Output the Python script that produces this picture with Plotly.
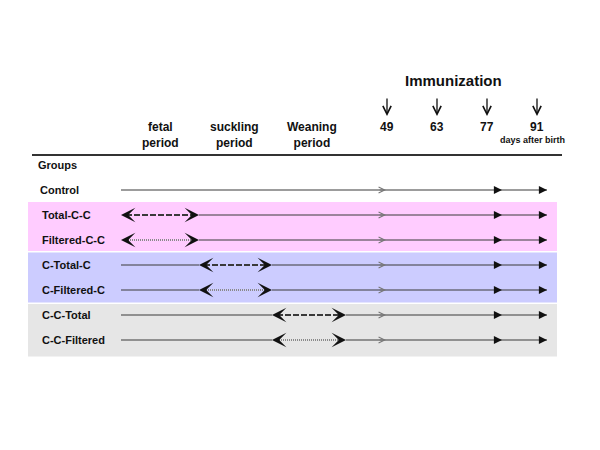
import plotly.graph_objects as go

# ---- data ----
groups = ["Control", "Total-C-C", "Filtered-C-C", "C-Total-C", "C-Filtered-C", "C-C-Total", "C-C-Filtered"]
treat_period = [None, 0, 0, 1, 1, 2, 2]
treat_kind = [None, "Total", "Filtered", "Total", "Filtered", "Total", "Filtered"]
period_labels = ["fetal<br>period", "suckling<br>period", "Weaning<br>period"]
imm_days = [49, 63, 77, 91]

# ---- layout positions (pixel-like axis units) ----
period_label_x = [160, 234, 312]
period_bounds = [121, 199, 272, 346]
band_colors = ["#FFCCFF", "#CCCCFF", "#E6E6E6"]
band_top = [202, 252.5, 304]
band_bottom = [251, 302.5, 356.5]
imm_x = [387, 437, 487, 537]
timeline_end = 547
open_mark_x = 386
boost_mark_x = [502, 547]
row_y = [190 + 25 * i for i in range(len(groups))]

FONT = "Liberation Sans, Arial, sans-serif"
LINE = "#3a3a3a"
TXT = "#111111"
OFF = 8  # page body margin

fig = go.Figure()
shapes = []
ann = []

# background bands
for p in range(3):
    shapes.append(dict(type="rect", xref="x", yref="y", x0=28, x1=557,
                       y0=band_top[p], y1=band_bottom[p],
                       fillcolor=band_colors[p], line_width=0, layer="below"))

# header rule
shapes.append(dict(type="line", xref="x", yref="y", x0=32, x1=562, y0=155, y1=155,
                   line=dict(color="#333333", width=2)))


def head(x, y, ax, ay, style, size, width, color):
    ann.append(dict(x=x, y=y, ax=ax, ay=ay, xref="x", yref="y", axref="x", ayref="y",
                    text="", showarrow=True, arrowhead=style, arrowsize=size,
                    arrowwidth=width, arrowcolor=color, standoff=0))


x0 = period_bounds[0]
for i, g in enumerate(groups):
    y = row_y[i]
    p = treat_period[i]
    if p is None:
        segs = [(x0, timeline_end)]
    else:
        s, e = period_bounds[p], period_bounds[p + 1]
        segs = []
        if s > x0:
            segs.append((x0, s))
        segs.append((e, timeline_end))
        if treat_kind[i] == "Total":
            tl = dict(color="#3a3a3a", width=2, dash="6px,2px")
        else:
            tl = dict(color="#8a8a8a", width=2, dash="1px,1px")
        fig.add_trace(go.Scatter(x=[s + 5, e - 5], y=[y, y], mode="lines", line=tl,
                                 hoverinfo="skip", showlegend=False))
        head(s, y, s + 7, y, 3, 1.5, 1.6, "#111111")
        head(e, y, e - 7, y, 3, 1.5, 1.6, "#111111")
    for a, b in segs:
        fig.add_trace(go.Scatter(x=[a, b], y=[y, y], mode="lines",
                                 line=dict(color=LINE, width=1.2),
                                 hoverinfo="skip", showlegend=False))
    # immunization marks on the timeline
    head(open_mark_x, y, open_mark_x - 8, y, 5, 1.2, 1.0, "#777777")
    for bx in boost_mark_x:
        head(bx, y, bx - 8, y, 2, 1.35, 1.2, "#111111")
    # group label
    ann.append(dict(x=38 if i == 0 else 40, y=y, xref="x", yref="y", text=g, showarrow=False,
                    xanchor="left", yanchor="middle",
                    font=dict(family=FONT, size=11, color=TXT, weight="bold")))

ann.append(dict(x=36, y=165, xref="x", yref="y", text="Groups", showarrow=False,
                xanchor="left", yanchor="middle",
                font=dict(family=FONT, size=11, color=TXT, weight="bold")))

# period labels
for lx, lab in zip(period_label_x, period_labels):
    ann.append(dict(x=lx, y=135, xref="x", yref="y", text=lab, showarrow=False,
                    xanchor="center", yanchor="middle",
                    font=dict(family=FONT, size=12, color=TXT, weight="bold")))

# immunization header
ann.append(dict(x=453, y=80, xref="x", yref="y", text="Immunization", showarrow=False,
                xanchor="center", yanchor="middle",
                font=dict(family=FONT, size=15, color=TXT, weight="bold")))
for ix, d in zip(imm_x, imm_days):
    head(ix, 116, ix, 97, 5, 1.25, 1.3, "#111111")
    ann.append(dict(x=ix, y=127, xref="x", yref="y", text=str(d), showarrow=False,
                    xanchor="center", yanchor="middle",
                    font=dict(family=FONT, size=12, color=TXT, weight="bold")))
ann.append(dict(x=532, y=140, xref="x", yref="y", text="days after birth", showarrow=False,
                xanchor="center", yanchor="middle",
                font=dict(family=FONT, size=9, color=TXT, weight="bold")))

fig.update_layout(
    width=600 - OFF, height=450 - OFF, margin=dict(l=0, r=0, t=0, b=0),
    paper_bgcolor="white", plot_bgcolor="white",
    xaxis=dict(range=[OFF, 600], visible=False, fixedrange=True),
    yaxis=dict(range=[450, OFF], visible=False, fixedrange=True),
    shapes=shapes, annotations=ann, showlegend=False,
)
fig.write_html("out.html")
